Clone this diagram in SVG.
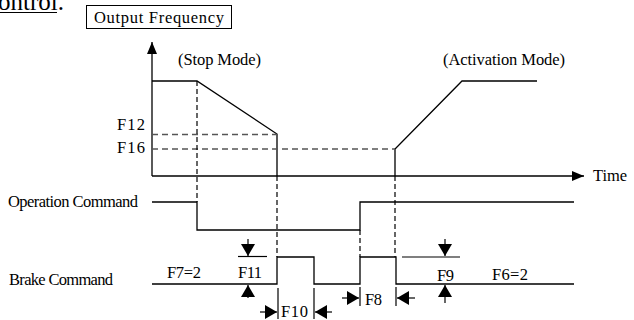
<svg xmlns="http://www.w3.org/2000/svg" width="634" height="320" viewBox="0 0 634 320">
  <defs>
    <style>
      text { font-family: "Liberation Serif", "Times New Roman", serif; fill: #000; }
      .lbl { font-size: 16.5px; }
      .sig { fill: none; stroke: #000; stroke-width: 1.3; }
      .dash { fill: none; stroke: #000; stroke-width: 1.2; stroke-dasharray: 5 3; }
      .gdash { fill: none; stroke: #555; stroke-width: 1.4; stroke-dasharray: 6 4; }
      .tick { fill: none; stroke: #000; stroke-width: 1.2; }
    </style>
    <marker id="tip" viewBox="0 0 10 10" preserveAspectRatio="none" refX="10" refY="5" markerWidth="12" markerHeight="10" markerUnits="userSpaceOnUse" orient="auto">
      <path d="M0,0 L10,5 L0,10 z" fill="#000"/>
    </marker>
    <marker id="ptr" viewBox="0 0 10 10" preserveAspectRatio="none" refX="10" refY="5" markerWidth="12" markerHeight="14" markerUnits="userSpaceOnUse" orient="auto">
      <path d="M0,0 L10,5 L0,10 z" fill="#000"/>
    </marker>
  </defs>

  <!-- sentence fragment above the figure -->
  <text x="-13" y="10" font-size="25">control.</text>
  <line x1="0" y1="12.5" x2="57" y2="12.5" stroke="#000" stroke-width="1.2"/>

  <!-- axis caption -->
  <g id="caption">
    <rect x="86.5" y="5.5" width="145" height="23" fill="none" stroke="#000" stroke-width="1"/>
    <text class="lbl" x="94" y="23" textLength="130">Output Frequency</text>
  </g>

  <!-- axes -->
  <g id="axes">
    <line class="sig" x1="152" y1="176" x2="152" y2="42" marker-end="url(#tip)"/>
    <line class="sig" x1="152" y1="176" x2="584" y2="176" marker-end="url(#tip)"/>
    <text class="lbl" x="593" y="181" textLength="34">Time</text>
  </g>

  <!-- output frequency trace -->
  <g id="frequency">
    <polyline class="sig" points="152,81 197,81 277,134 277,176"/>
    <polyline class="sig" points="395,176 395,149 462,81 537,81"/>
    <text class="lbl" x="178" y="65" textLength="83">(Stop Mode)</text>
    <text class="lbl" x="443" y="65" textLength="122">(Activation Mode)</text>
    <text class="lbl" x="117" y="130" textLength="28">F12</text>
    <text class="lbl" x="117" y="153" textLength="28">F16</text>
  </g>

  <!-- reference levels and timing guides -->
  <g id="guides">
    <line class="gdash" x1="152" y1="134.5" x2="277" y2="134.5"/>
    <line class="gdash" x1="152" y1="149" x2="395" y2="149"/>
    <line class="dash" x1="197" y1="81" x2="197" y2="202"/>
    <line class="dash" x1="277" y1="176" x2="277" y2="257"/>
    <line class="dash" x1="360" y1="230" x2="360" y2="257"/>
    <line class="dash" x1="395" y1="176" x2="395" y2="257"/>
  </g>

  <!-- operation command -->
  <g id="operation">
    <text class="lbl" x="8" y="207" textLength="130">Operation Command</text>
    <polyline class="sig" points="152,202 197,202 197,230 360,230 360,202 574,202"/>
  </g>

  <!-- brake command -->
  <g id="brake">
    <text class="lbl" x="9" y="285" textLength="104">Brake Command</text>
    <polyline class="sig" points="152,284 277,284 277,257 314,257 314,284 360,284 360,257 396,257 396,284 574,284"/>
    <text class="lbl" x="167" y="278" textLength="34">F7=2</text>
    <text class="lbl" x="492" y="280" textLength="36">F6=2</text>
  </g>

  <!-- F11 level marker -->
  <g id="f11">
    <line class="tick" x1="238" y1="256.5" x2="267" y2="256.5"/>
    <line class="tick" x1="248" y1="239" x2="248" y2="256" marker-end="url(#ptr)"/>
    <line class="tick" x1="248" y1="298" x2="248" y2="285" marker-end="url(#ptr)"/>
    <text class="lbl" x="238" y="278" textLength="24">F11</text>
  </g>

  <!-- F9 level marker -->
  <g id="f9">
    <line class="tick" x1="402" y1="257" x2="460" y2="257"/>
    <line class="tick" x1="445" y1="239" x2="445" y2="256" marker-end="url(#ptr)"/>
    <line class="tick" x1="445" y1="303" x2="445" y2="285" marker-end="url(#ptr)"/>
    <text class="lbl" x="437" y="281" textLength="17">F9</text>
  </g>

  <!-- F10 interval marker -->
  <g id="f10">
    <line class="tick" x1="278" y1="288" x2="278" y2="319"/>
    <line class="tick" x1="314" y1="288" x2="314" y2="319"/>
    <line class="tick" x1="260" y1="312" x2="277" y2="312" marker-end="url(#ptr)"/>
    <line class="tick" x1="332" y1="312" x2="315" y2="312" marker-end="url(#ptr)"/>
    <text class="lbl" x="281" y="317" textLength="27">F10</text>
  </g>

  <!-- F8 interval marker -->
  <g id="f8">
    <line class="tick" x1="360" y1="287" x2="360" y2="306"/>
    <line class="tick" x1="396" y1="287" x2="396" y2="306"/>
    <line class="tick" x1="342" y1="298" x2="359" y2="298" marker-end="url(#ptr)"/>
    <line class="tick" x1="415" y1="298" x2="397" y2="298" marker-end="url(#ptr)"/>
    <text class="lbl" x="365" y="305" textLength="17">F8</text>
  </g>
</svg>
